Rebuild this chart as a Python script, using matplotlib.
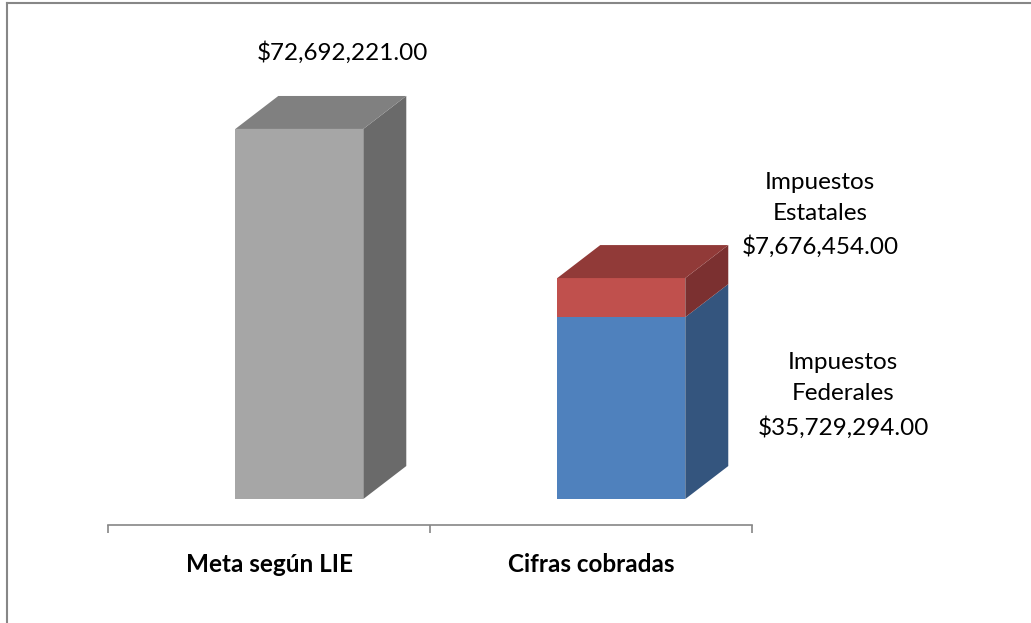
import matplotlib.pyplot as plt
from matplotlib.patches import Polygon
from matplotlib.lines import Line2D

# data
categories = ['Meta según LIE', 'Cifras cobradas']
meta = 72692221.00
federales = 35729294.00
estatales = 7676454.00

plt.rcParams['font.family'] = ['Lato', 'DejaVu Sans']

fig = plt.figure(figsize=(10.31, 6.23), dpi=100)
ax = fig.add_axes([0.1048, 0.1573, 0.6246, 0.818])
ax.set_xlim(-0.5, 1.5)
ax.set_ylim(-5.1e6, 95e6)

w = 0.3975      # front width of a bar
shift = 0.094   # bars sit a bit behind the axis line
dx, dy = 0.1335, 6.48e6   # depth of the 3d boxes

def box(x, bottom, height, front, top, side, draw_top=True):
    x0 = x + shift - w / 2
    x1 = x + shift + w / 2
    h = bottom + height
    ax.bar(x + shift, height, width=w, bottom=bottom, color=front, zorder=2)
    ax.add_patch(Polygon([(x1, bottom), (x1 + dx, bottom + dy), (x1 + dx, h + dy), (x1, h)],
                         closed=True, color=side, lw=0, zorder=2))
    if draw_top:
        ax.add_patch(Polygon([(x0, h), (x1, h), (x1 + dx, h + dy), (x0 + dx, h + dy)],
                             closed=True, color=top, lw=0, zorder=3))

box(0, 0, meta, '#a6a6a6', '#808080', '#6a6a6a')
box(1, 0, federales, '#4f81bd', '#3a5f8c', '#34557e', draw_top=False)
box(1, federales, estatales, '#c0504d', '#913a38', '#7b3030')

# labels
ax.text(0.227, meta + 15.1e6, '${:,.2f}'.format(meta), ha='center', va='center',
        fontsize=17.5, clip_on=False)
ax.text(1.711, 55.8e6, 'Impuestos\nEstatales\n${:,.2f}'.format(estatales), ha='center',
        va='center', fontsize=17.5, linespacing=1.62, clip_on=False)
ax.text(1.783, 20.4e6, 'Impuestos\nFederales\n${:,.2f}'.format(federales), ha='center',
        va='center', fontsize=17.5, linespacing=1.62, clip_on=False)

# axis
for s in ['top', 'right', 'left']:
    ax.spines[s].set_visible(False)
ax.spines['bottom'].set_color('#868686')
ax.spines['bottom'].set_linewidth(1.2)
ax.set_yticks([])
ax.set_xticks([-0.5, 0.5, 1.5])
ax.set_xticklabels([])
ax.tick_params(axis='x', which='major', direction='out', length=6, width=1.2, color='#868686')
ax.set_xticks([0, 1], minor=True)
ax.set_xticklabels(categories, minor=True, fontsize=17.5, fontweight='bold')
ax.tick_params(axis='x', which='minor', length=0, pad=20)

# chart border
fig.add_artist(Line2D([0.0068, 1.0], [0.995, 0.995], color='#878787', lw=1.5))
fig.add_artist(Line2D([0.0068, 0.0068], [0.0, 0.995], color='#878787', lw=1.5))

fig.savefig('out.png', dpi=100)
